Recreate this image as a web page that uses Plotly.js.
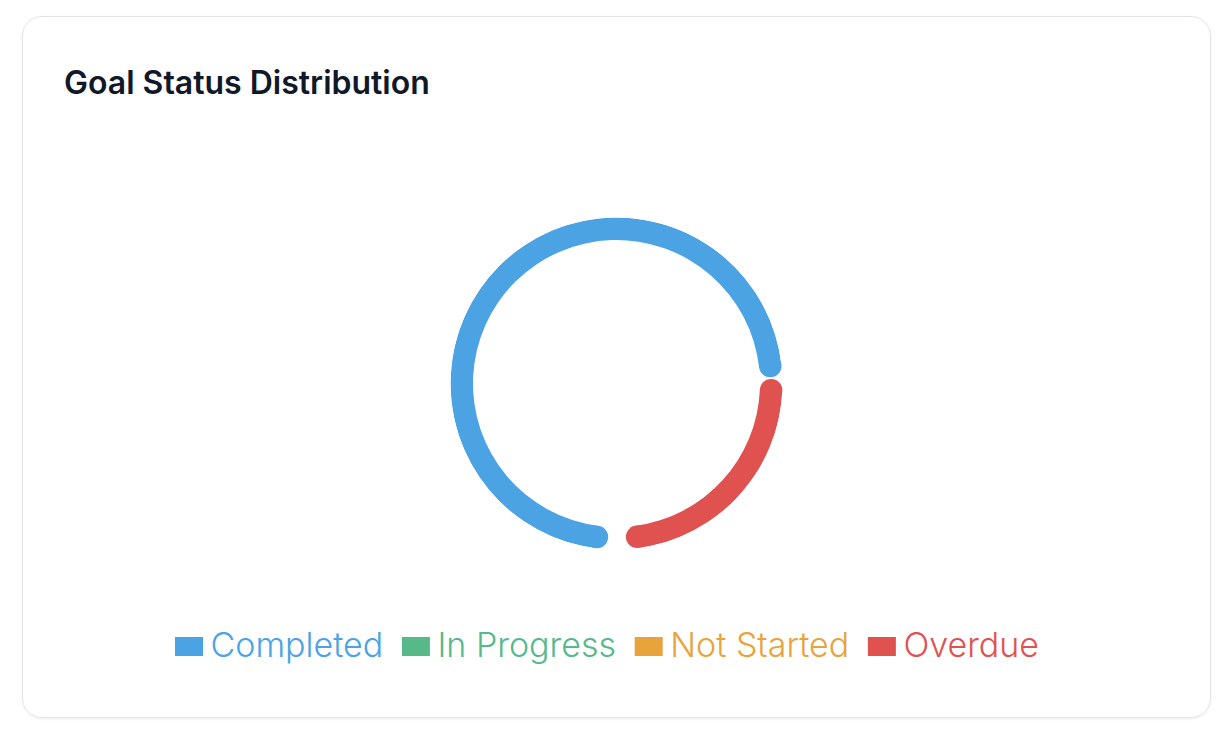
<!DOCTYPE html>
<html>
<head>
<meta charset="utf-8">
<script src="https://cdn.plot.ly/plotly-3.0.1.min.js"></script>
<style>
  html, body { margin: 0; padding: 0; background: #fff; }
  .card {
    position: absolute; left: 22px; top: 16px; width: 1187px; height: 700px;
    border: 1.5px solid #e2e4e8; border-radius: 20px;
    box-shadow: 0 1px 3px rgba(16, 24, 40, 0.07);
  }
  #chart { position: absolute; left: 0; top: 0; width: 1232px; height: 743px; }
</style>
</head>
<body>
<div class="card"></div>
<div id="chart"></div>
<script>
const statuses = ["Completed", "In Progress", "Not Started", "Overdue"];
const goalCounts = [3, 0, 0, 1];
const statusColors = ["#4ba3e3", "#57b88a", "#e8a33b", "#e05250"];

// ring geometry (px, the radial axis runs 0..outerR)
const padAngle = 2.2;   // gap between neighbouring statuses
const seamAngle = 0.6;  // thin seam where the ring closes
const outerR = 166;
const ringW = 22.5;
const capR = ringW / 2;
const midR = outerR - capR;
const capDeg = (capR / midR) * 180 / Math.PI;

const total = goalCounts.reduce((a, b) => a + b, 0);
const free = 360 - padAngle * (statuses.length - 1) - seamAngle;

const traces = [];
const capTheta = [];
const capColor = [];
let cursor = seamAngle / 2;
statuses.forEach((s, i) => {
  const span = (goalCounts[i] / total) * free;
  const a = cursor;
  const b = cursor + span;
  cursor = b + padAngle;
  const drawn = span > 0;
  // thin space after each label except the last, to open up the legend a bit
  const tail = i < statuses.length - 1 ? "&#8201;" : "";
  traces.push({
    type: "barpolar",
    name: `<span style="color:${statusColors[i]}">${s}</span>${tail}`,
    r: [drawn ? ringW : 0],
    base: [outerR - ringW],
    theta: [(a + b) / 2],
    width: [drawn ? span - 2 * capDeg : 0],
    marker: { color: statusColors[i], line: { width: 0 } },
    hoverinfo: "skip",
  });
  // rounded ends of the arc
  if (drawn) {
    capTheta.push(a + capDeg, b - capDeg);
    capColor.push(statusColors[i], statusColors[i]);
  }
});
traces.push({
  type: "scatterpolar",
  mode: "markers",
  r: capTheta.map(() => midR),
  theta: capTheta,
  marker: { size: ringW, color: capColor, line: { width: 0 } },
  showlegend: false,
  hoverinfo: "skip",
});

const W = 1232, H = 743;
const cx = 616.5, cy = 383.5;

const layout = {
  width: W,
  height: H,
  margin: { l: 0, r: 0, t: 0, b: 0 },
  paper_bgcolor: "rgba(0,0,0,0)",
  plot_bgcolor: "rgba(0,0,0,0)",
  title: {
    text: "Goal Status Distribution",
    xref: "container",
    yref: "container",
    x: 64 / W,
    xanchor: "left",
    y: 1 - 83 / H,
    yanchor: "middle",
    font: { family: "Inter, sans-serif", size: 32, weight: 600, color: "#111827" },
  },
  polar: {
    domain: {
      x: [(cx - outerR) / W, (cx + outerR) / W],
      y: [(H - cy - outerR) / H, (H - cy + outerR) / H],
    },
    bgcolor: "rgba(0,0,0,0)",
    barmode: "overlay",
    bargap: 0,
    radialaxis: { visible: false, range: [0, outerR] },
    angularaxis: { visible: false, direction: "counterclockwise", rotation: 2 },
  },
  showlegend: true,
  legend: {
    orientation: "h",
    x: 606 / W,
    xanchor: "center",
    y: (H - 644) / H,
    yanchor: "middle",
    itemwidth: 33,
    bgcolor: "rgba(0,0,0,0)",
    font: { family: "Inter, sans-serif", size: 34, weight: 300, color: "#444" },
  },
};

Plotly.newPlot("chart", traces, layout, { staticPlot: true }).then((gd) => {
  // wider legend swatches, sitting a touch lower, as in the design
  gd.querySelectorAll(".legendpoints path").forEach((p) =>
    p.setAttribute("d", "M14,12.5H-14V-6.5H14Z")
  );
});
</script>
</body>
</html>
